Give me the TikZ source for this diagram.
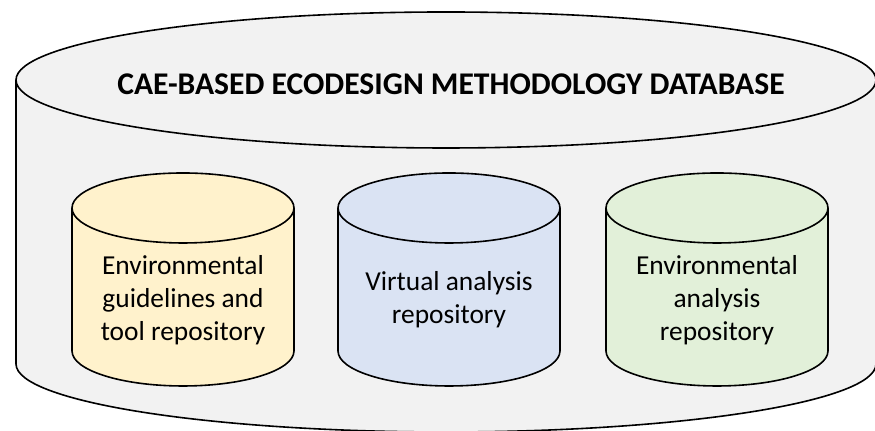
\documentclass[tikz,border=0pt]{standalone}
\usepackage{fontspec}
\setmainfont{Carlito}
\definecolor{dbgray}{HTML}{F2F2F2}
\definecolor{repoyellow}{HTML}{FFF2CC}
\definecolor{repoblue}{HTML}{DAE3F3}
\definecolor{repogreen}{HTML}{E2F0D9}

\begin{document}
\begin{tikzpicture}[x=0.5pt,y=0.5pt,line width=0.8pt]
  \def\W{875}
  \def\H{431}

  % outer database cylinder
  \def\cx{446}
  \def\rx{430}
  \def\ry{68}
  \def\ytop{351}
  \def\ybot{67}

  % repository cylinders
  \def\rrx{111}
  \def\rry{35}
  \def\rtop{223}
  \def\rbot{80}

  \useasboundingbox (0,0) rectangle (\W,\H);
  \clip (0,0) rectangle (\W,\H);

  \fill[dbgray] (\cx-\rx,\ytop) -- (\cx-\rx,\ybot)
    arc[start angle=180,end angle=360,x radius=\rx,y radius=\ry]
    -- (\cx+\rx,\ytop) -- cycle;
  \draw (\cx-\rx,\ytop) -- (\cx-\rx,\ybot)
    arc[start angle=180,end angle=360,x radius=\rx,y radius=\ry]
    -- (\cx+\rx,\ytop);
  \filldraw[fill=dbgray] (\cx,\ytop) ellipse[x radius=\rx,y radius=\ry];

  \node[font=\bfseries\fontsize{15.8}{19}\selectfont] (title) at (451,347)
    {CAE-BASED ECODESIGN METHODOLOGY DATABASE};

  \foreach \x/\col/\txt[count=\i] in {183/repoyellow/{Environmental\\guidelines and\\tool repository},
      449/repoblue/{Virtual analysis\\repository},
      717/repogreen/{Environmental\\analysis\\repository}} {
    \fill[\col] (\x-\rrx,\rtop) -- (\x-\rrx,\rbot)
      arc[start angle=180,end angle=360,x radius=\rrx,y radius=\rry]
      -- (\x+\rrx,\rtop) -- cycle;
    \draw (\x-\rrx,\rtop) -- (\x-\rrx,\rbot)
      arc[start angle=180,end angle=360,x radius=\rrx,y radius=\rry]
      -- (\x+\rrx,\rtop);
    \filldraw[fill=\col] (\x,\rtop) ellipse[x radius=\rrx,y radius=\rry];
    \node[font=\fontsize{13.7}{16.5}\selectfont,align=center] (repo\i) at (\x,131) {\txt};
  }
\end{tikzpicture}
\end{document}
